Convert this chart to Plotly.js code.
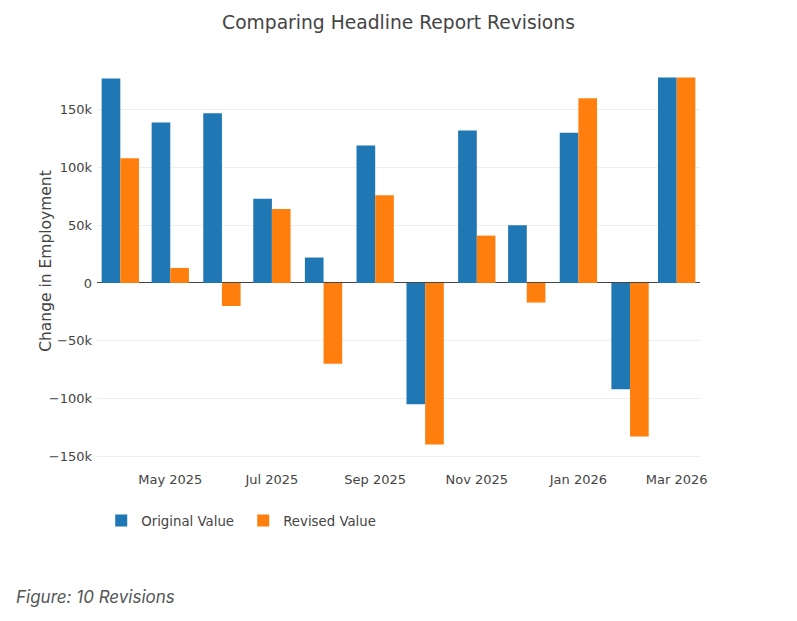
<!DOCTYPE html>
<html>
<head>
<meta charset="utf-8">
<script src="https://cdn.plot.ly/plotly-3.0.1.min.js"></script>
<style>
  body { margin: 0; background: #fff; }
  #chart { width: 797px; height: 560px; }
  .caption {
    margin: 27px 0 0 16px;
    font-family: Inter, 'Noto Sans', sans-serif;
    font-style: italic;
    font-size: 17px;
    color: #555;
  }
</style>
</head>
<body>
<div id="chart"></div>
<div class="caption">Figure: 10 Revisions</div>
<script>
const months = [
  '2025-04-01', '2025-05-01', '2025-06-01', '2025-07-01', '2025-08-01', '2025-09-01',
  '2025-10-01', '2025-11-01', '2025-12-01', '2026-01-01', '2026-02-01', '2026-03-01',
];
const originalValues = [177000, 139000, 147000, 73000, 22000, 119000, -105000, 132000, 50000, 130000, -92000, 178000];
const revisedValues = [108000, 13000, -20000, 64000, -70000, 76000, -140000, 41000, -17000, 160000, -133000, 178000];

const FONT = 'DejaVu Sans, Verdana, sans-serif';

const traces = [
  {
    type: 'bar',
    name: 'Original Value',
    x: months,
    y: originalValues,
    marker: { color: '#1f77b4' },
  },
  {
    type: 'bar',
    name: 'Revised Value',
    x: months,
    y: revisedValues,
    marker: { color: '#ff7f0e' },
  },
];

const layout = {
  width: 797,
  height: 560,
  barmode: 'group',
  paper_bgcolor: '#fff',
  plot_bgcolor: '#fff',
  font: { family: FONT, size: 13, color: '#444' },
  margin: { l: 97, r: 97, t: 57, b: 95 },
  title: {
    text: 'Comparing Headline Report Revisions',
    font: { family: FONT, size: 18.7, color: '#444' },
    x: 0.5,
    xanchor: 'center',
    y: 1 - 22 / 560,
    yanchor: 'middle',
  },
  xaxis: {
    type: 'date',
    tickformat: '%b %Y',
    dtick: 'M2',
    tickfont: { size: 13 },
    ticklabelstandoff: 5,
  },
  yaxis: {
    title: { text: 'Change in Employment', font: { size: 15.5 } },
    tickfont: { size: 13 },
    ticklabelstandoff: 4,
    gridcolor: '#eee',
    zerolinecolor: '#444',
  },
  legend: {
    orientation: 'h',
    x: 0.007,
    xanchor: 'left',
    y: -0.137,
    yanchor: 'middle',
    font: { size: 13.3 },
    entrywidth: 97,
  },
};

Plotly.newPlot('chart', traces, layout, { displayModeBar: false, responsive: false });
</script>
</body>
</html>
